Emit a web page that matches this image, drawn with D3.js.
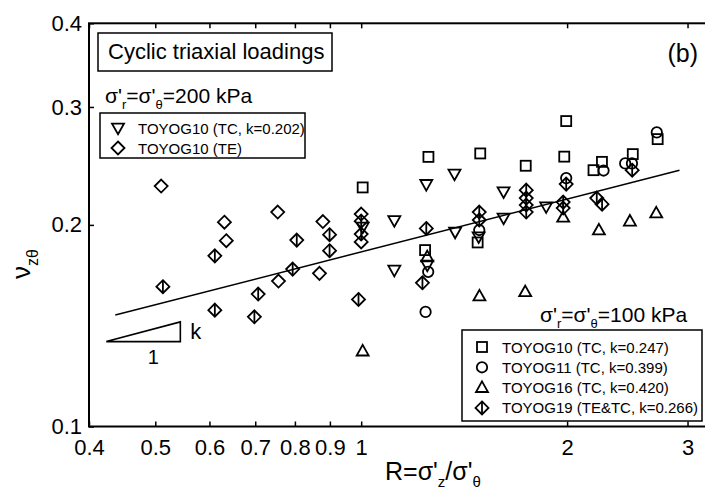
<!DOCTYPE html>
<html>
<head>
<meta charset="utf-8">
<script src="https://cdn.jsdelivr.net/npm/d3@7"></script>
<style>
  html, body { margin: 0; padding: 0; background: #fff; }
  svg { display: block; }
</style>
</head>
<body>
<div id="chart"></div>
<script>
// ---------- data ----------
const xTicks = [0.4, 0.5, 0.6, 0.7, 0.8, 0.9, 1, 2, 3];
const yTicks = [0.1, 0.2, 0.3, 0.4];

// 200 kPa, TOYOG10 TC (inverted triangles)
const g10tc200R  = [1.005, 1.118, 1.118, 1.245, 1.249, 1.369, 1.372, 1.485, 1.615, 1.615, 1.864];
const g10tc200Nu = [0.1985, 0.2030, 0.1712, 0.2299, 0.1742, 0.2382, 0.1951, 0.1920, 0.2241, 0.2048, 0.2129];

// 200 kPa, TOYOG10 TE (open diamonds)
const g10te200R  = [0.510, 0.631, 0.635, 0.755, 0.757, 0.869, 0.879, 1.0, 1.0];
const g10te200Nu = [0.2286, 0.2019, 0.1894, 0.2090, 0.1649, 0.1693, 0.2023, 0.2076, 0.1886];

// 100 kPa, TOYOG10 TC (squares)
const g10R  = [1.005, 1.240, 1.254, 1.480, 1.493, 1.740, 1.981, 1.994, 2.186, 2.249, 2.495, 2.713];
const g10Nu = [0.2275, 0.1834, 0.2527, 0.1883, 0.2557, 0.2451, 0.2529, 0.2858, 0.2414, 0.2484, 0.2551, 0.2686];

// 100 kPa, TOYOG11 TC (circles)
const g11R  = [1.242, 1.253, 1.488, 1.994, 2.261, 2.432, 2.488, 2.705];
const g11Nu = [0.1483, 0.1702, 0.1965, 0.2349, 0.2411, 0.2471, 0.2471, 0.2749];

// 100 kPa, TOYOG16 TC (triangles)
const g16R  = [1.005, 1.249, 1.489, 1.737, 1.974, 2.226, 2.471, 2.700];
const g16Nu = [0.1296, 0.1792, 0.1566, 0.1589, 0.2053, 0.1965, 0.2026, 0.2083];

// 100 kPa, TOYOG19 TE&TC (diamonds with bar)
const g19R  = [0.513, 0.611, 0.611, 0.707, 0.698, 0.794, 0.805, 0.899, 0.899, 0.991, 1.0, 1.0,
               1.229, 1.245, 1.488, 1.488, 1.743, 1.743, 1.743, 1.743, 1.994, 1.974, 1.974, 2.21, 2.25, 2.49];
const g19Nu = [0.1617, 0.1798, 0.1492, 0.1577, 0.1458, 0.1718, 0.1898, 0.1934, 0.1830, 0.1548, 0.2026, 0.1938,
               0.1639, 0.1976, 0.2034, 0.2090, 0.2254, 0.2193, 0.2141, 0.2090, 0.2301, 0.2163, 0.2119, 0.2193, 0.2148, 0.2414];

// fitted line end points
const fitR  = [0.437, 2.92];
const fitNu = [0.1467, 0.2414];

// slope triangle (k over 1)
const triR  = [0.424, 0.544];
const triNu = [0.1339, 0.1433];

const legend200 = [
  {sym: "tridown", label: "TOYOG10 (TC, k=0.202)"},
  {sym: "diamond", label: "TOYOG10 (TE)"}
];
const legend100 = [
  {sym: "square",     label: "TOYOG10 (TC, k=0.247)"},
  {sym: "circle",     label: "TOYOG11 (TC, k=0.399)"},
  {sym: "triup",      label: "TOYOG16 (TC, k=0.420)"},
  {sym: "diamondbar", label: "TOYOG19 (TE&TC, k=0.266)"}
];

// ---------- drawing ----------
const W = 705, H = 491;
const FONT = "'Liberation Sans', Arial, Helvetica, sans-serif";
const svg = d3.select("#chart").append("svg")
  .attr("width", W).attr("height", H)
  .attr("font-family", FONT);

const x = d3.scaleLog().domain([0.4, 3.3]).range([89, 89 + 684 * Math.log10(3.3 / 0.4)]);
const y = d3.scaleLog().domain([0.1, 0.4]).range([426.5, 23.3]);

const SW = 1.8;
function marker(g, sym, cx, cy) {
  const s = g.append("g").attr("transform", `translate(${cx},${cy})`)
    .attr("fill", "none").attr("stroke", "#000").attr("stroke-width", SW);
  if (sym === "square") {
    s.append("rect").attr("x", -5).attr("y", -5).attr("width", 10).attr("height", 10);
  } else if (sym === "circle") {
    s.append("circle").attr("r", 5.2);
  } else if (sym === "triup") {
    s.append("path").attr("d", "M0,-6.2L6,4.4L-6,4.4Z");
  } else if (sym === "tridown") {
    s.append("path").attr("d", "M0,6.2L6,-4.4L-6,-4.4Z");
  } else if (sym === "diamond") {
    s.append("path").attr("d", "M0,-6.5L6.5,0L0,6.5L-6.5,0Z");
  } else if (sym === "diamondbar") {
    s.append("path").attr("d", "M0,-6.5L6.5,0L0,6.5L-6.5,0Z");
    s.append("path").attr("d", "M0,-6.5L0,6.5");
  }
}

// axes
const xAxis = d3.axisBottom(x).tickValues(xTicks).tickFormat(d => String(d))
  .tickSizeInner(-5).tickSizeOuter(0).tickPadding(13);
const xAxisTop = d3.axisTop(x).tickValues(xTicks).tickFormat("")
  .tickSizeInner(-5).tickSizeOuter(0);
const yAxis = d3.axisLeft(y).tickValues(yTicks).tickFormat(d => String(d))
  .tickSizeInner(-5).tickSizeOuter(0).tickPadding(7);

function styleAxis(g) {
  g.select(".domain").remove();
  g.selectAll(".tick line").attr("stroke", "#000").attr("stroke-width", 1.5);
  g.selectAll(".tick text").attr("fill", "#000").attr("font-size", 22).attr("font-family", FONT);
}
svg.append("g").attr("transform", `translate(0,${y(0.1)})`).call(xAxis).call(styleAxis);
svg.append("g").attr("transform", `translate(0,${y(0.4)})`).call(xAxisTop).call(styleAxis);
svg.append("g").attr("transform", `translate(${x(0.4)},0)`).call(yAxis).call(styleAxis);

// frame
svg.append("rect")
  .attr("x", x(0.4)).attr("y", y(0.4))
  .attr("width", x(3.3) - x(0.4)).attr("height", y(0.1) - y(0.4))
  .attr("fill", "none").attr("stroke", "#000").attr("stroke-width", 2);

// fit line
svg.append("line")
  .attr("x1", x(fitR[0])).attr("y1", y(fitNu[0]))
  .attr("x2", x(fitR[1])).attr("y2", y(fitNu[1]))
  .attr("stroke", "#000").attr("stroke-width", 1.5);

// slope triangle
svg.append("path")
  .attr("d", `M${x(triR[0])},${y(triNu[0])}L${x(triR[1])},${y(triNu[0])}L${x(triR[1])},${y(triNu[1])}Z`)
  .attr("fill", "none").attr("stroke", "#000").attr("stroke-width", 1.6);
svg.append("text").attr("x", x(triR[1]) + 10).attr("y", y(triNu[0]) - 3)
  .attr("font-size", 22).text("k");
svg.append("text").attr("x", (x(triR[0]) + x(triR[1])) / 2 + 10).attr("y", y(triNu[0]) + 22)
  .attr("font-size", 20).attr("text-anchor", "middle").text("1");

// points
const series = [
  {R: g10te200R, N: g10te200Nu, sym: "diamond"},
  {R: g19R, N: g19Nu, sym: "diamondbar"},
  {R: g16R, N: g16Nu, sym: "triup"},
  {R: g10R, N: g10Nu, sym: "square"},
  {R: g11R, N: g11Nu, sym: "circle"},
  {R: g10tc200R, N: g10tc200Nu, sym: "tridown"}
];
const pts = svg.append("g");
series.forEach(s => s.R.forEach((r, i) => marker(pts, s.sym, x(r), y(s.N[i]))));

// title box
svg.append("rect").attr("x", 98).attr("y", 33).attr("width", 234).attr("height", 38)
  .attr("fill", "#fff").attr("stroke", "#000").attr("stroke-width", 1.5);
svg.append("text").attr("x", 108).attr("y", 59).attr("font-size", 22).text("Cyclic triaxial loadings");

// (b)
svg.append("text").attr("x", 698).attr("y", 62).attr("font-size", 25)
  .attr("text-anchor", "end").text("(b)");

// stress labels
function stressLabel(xp, yp, val) {
  const t = svg.append("text").attr("x", xp).attr("y", yp).attr("font-size", 21);
  t.append("tspan").text("σ'");
  t.append("tspan").attr("font-size", 13).attr("dy", 6).text("r");
  t.append("tspan").attr("dy", -6).text("=σ'");
  t.append("tspan").attr("font-size", 13).attr("dy", 6).text("θ");
  t.append("tspan").attr("dy", -6).text("=" + val + " kPa");
}
stressLabel(105, 103, "200");
stressLabel(540, 322, "100");

// legend 200
svg.append("rect").attr("x", 100).attr("y", 113).attr("width", 205).attr("height", 45)
  .attr("fill", "#fff").attr("stroke", "#000").attr("stroke-width", 1.5);
legend200.forEach((d, i) => {
  const cy = 128 + i * 20;
  marker(svg, d.sym, 118, cy);
  svg.append("text").attr("x", 138).attr("y", cy + 5.5).attr("font-size", 15).text(d.label);
});

// legend 100
svg.append("rect").attr("x", 462).attr("y", 330).attr("width", 240).attr("height", 91)
  .attr("fill", "#fff").attr("stroke", "#000").attr("stroke-width", 1.5);
legend100.forEach((d, i) => {
  const cy = 347 + i * 20.3;
  marker(svg, d.sym, 482, cy);
  svg.append("text").attr("x", 502).attr("y", cy + 5.5).attr("font-size", 15).text(d.label);
});

// x title
const xt = svg.append("text").attr("x", 385).attr("y", 480).attr("font-size", 25);
xt.append("tspan").text("R=σ'");
xt.append("tspan").attr("font-size", 15).attr("dy", 7).text("z");
xt.append("tspan").attr("dy", -7).text("/σ'");
xt.append("tspan").attr("font-size", 15).attr("dy", 7).text("θ");

// y title
const yt = svg.append("text").attr("transform", "translate(30,279) rotate(-90)").attr("font-size", 26);
yt.append("tspan").text("ν");
yt.append("tspan").attr("font-size", 16).attr("dy", 8).text("zθ");
</script>
</body>
</html>
